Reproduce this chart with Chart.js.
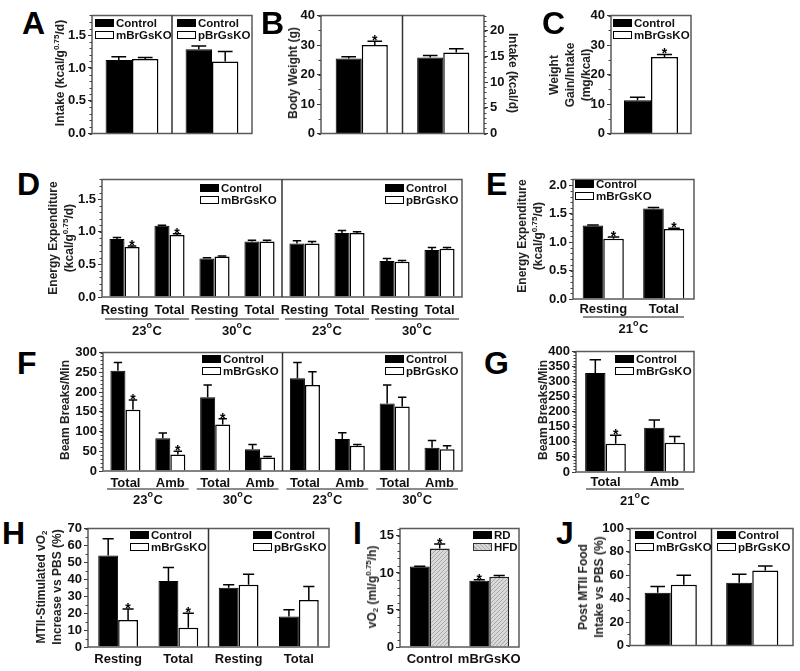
<!DOCTYPE html>
<html><head><meta charset="utf-8">
<script src="https://cdn.jsdelivr.net/npm/chart.js@4.4.1/dist/chart.umd.min.js"></script>
<style>
body{margin:0;background:#fff;width:800px;height:671px;overflow:hidden;position:relative;font-family:"Liberation Sans",Arial,sans-serif;}
canvas{position:absolute;}
.letter{position:absolute;font-weight:bold;font-size:32px;line-height:32px;color:#000;}
.ytitle{position:absolute;font-weight:bold;font-size:12px;color:#222;white-space:nowrap;text-align:center;line-height:16px;transform:translate(-50%,-50%) rotate(-90deg);}
.ytitle.cw{transform:translate(-50%,-50%) rotate(90deg);}
.ytitle sup{font-size:8px;line-height:0;vertical-align:5px;}
.ytitle sub{font-size:8px;line-height:0;vertical-align:-2px;}
.leg{position:absolute;font-weight:bold;font-size:11.5px;color:#111;}
.leg .row{height:12px;line-height:12px;display:flex;align-items:center;white-space:nowrap;}
.sw{display:inline-block;width:19px;height:8px;border:1px solid #000;margin-right:2px;box-sizing:border-box;}
.sw.c{background:#000;}
.sw.k{background:#fff;border-width:1.5px;}
.sw.h{background:repeating-linear-gradient(45deg,#d6d6d6 0 2px,#b0b0b0 2px 3px);border-color:#333;}
</style></head><body>
<script>
// ---------------- DATA ----------------
// A: Intake (kcal/g^0.75/d)
const A_groups = ['mBrGsKO', 'pBrGsKO'];
const A_control = [1.12, 1.285];
const A_controlErr = [1.17, 1.335];
const A_ko = [1.135, 1.10];
const A_koErr = [1.16, 1.25];

// B: Body weight (g) left, Intake (kcal/d) right
const B_groups = ['mBrGsKO', 'pBrGsKO'];
const B_weightControl = [25.4, null];
const B_weightControlErr = [26.0, null];
const B_weightKO = [30.0, null];
const B_weightKOErr = [31.3, null];
const B_weightKOStar = [true, false];
const B_intakeControl = [null, 14.8];
const B_intakeControlErr = [null, 15.2];
const B_intakeKO = [null, 15.8];
const B_intakeKOErr = [null, 16.5];

// C: Weight gain / intake (mg/kcal)
const C_groups = ['mBrGsKO'];
const C_control = [11.3];
const C_controlErr = [12.3];
const C_ko = [25.9];
const C_koErr = [26.8];
const C_koStar = [true];

// D: Energy expenditure
const D_labels = ['Resting', 'Total', 'Resting', 'Total', 'Resting', 'Total', 'Resting', 'Total'];
const D_temps = ['23°C', '30°C', '23°C', '30°C'];
const D_control = [0.89, 1.09, 0.59, 0.85, 0.82, 0.98, 0.55, 0.72];
const D_controlErr = [0.91, 1.10, 0.60, 0.87, 0.86, 1.02, 0.59, 0.76];
const D_ko = [0.765, 0.95, 0.62, 0.85, 0.82, 0.98, 0.54, 0.74];
const D_koErr = [0.78, 0.97, 0.63, 0.87, 0.85, 1.00, 0.56, 0.76];
const D_koStar = [true, true, false, false, false, false, false, false];

// E: Energy expenditure at 21C
const E_labels = ['Resting', 'Total'];
const E_temps = ['21°C'];
const E_control = [1.29, 1.59];
const E_controlErr = [1.30, 1.61];
const E_ko = [1.06, 1.23];
const E_koErr = [1.09, 1.245];
const E_koStar = [true, true];

// F: Beam breaks/min
const F_labels = ['Total', 'Amb', 'Total', 'Amb', 'Total', 'Amb', 'Total', 'Amb'];
const F_temps = ['23°C', '30°C', '23°C', '30°C'];
const F_control = [254, 83, 187, 55, 235, 81, 171, 59];
const F_controlErr = [275, 96, 218, 67, 275, 97, 218, 77];
const F_ko = [155, 42, 118, 34, 218, 64, 163, 55];
const F_koErr = [180, 50, 132, 37, 251, 67, 187, 64];
const F_koStar = [true, true, true, false, false, false, false, false];

// G: Beam breaks/min at 21C
const G_labels = ['Total', 'Amb'];
const G_temps = ['21°C'];
const G_control = [329, 147];
const G_controlErr = [373, 173];
const G_ko = [94, 97];
const G_koErr = [122, 118];
const G_koStar = [true, false];

// H: MTII-stimulated vO2 increase vs PBS (%)
const H_labels = ['Resting', 'Total', 'Resting', 'Total'];
const H_control = [54, 39, 35, 18];
const H_controlErr = [64, 47, 36.7, 22];
const H_ko = [16, 11.4, 36.7, 27.8];
const H_koErr = [22.5, 20, 43, 35.7];
const H_koStar = [true, true, false, false];

// I: vO2 (ml/g^0.75/h)
const I_labels = ['Control', 'mBrGsKO'];
const I_rd = [10.87, 8.94];
const I_rdErr = [10.9, 9.07];
const I_rdStar = [false, true];
const I_hfd = [13.3, 9.5];
const I_hfdErr = [13.9, 9.65];
const I_hfdStar = [true, false];

// J: Post MTII food intake vs PBS (%)
const J_groups = ['mBrGsKO', 'pBrGsKO'];
const J_control = [45, 53.6];
const J_controlErr = [50.5, 61];
const J_ko = [52, 64];
const J_koErr = [60, 68];

// ---------------- HELPERS ----------------
const FONT = '"Liberation Sans", Arial, sans-serif';
Chart.defaults.font.family = FONT;
Chart.defaults.color = '#111';

function drawTemp(ctx, str, x, y) {
  const parts = str.split('°');
  const num = parts[0], unit = parts[1];
  ctx.font = 'bold 13px ' + FONT;
  const w1 = ctx.measureText(num).width, w3 = ctx.measureText(unit).width;
  ctx.font = 'bold 9px ' + FONT;
  const w2 = ctx.measureText('o').width + 0.5;
  let x0 = x - (w1 + w2 + w3) / 2;
  ctx.textAlign = 'left'; ctx.textBaseline = 'middle';
  ctx.font = 'bold 13px ' + FONT; ctx.fillText(num, x0, y);
  ctx.font = 'bold 9px ' + FONT; ctx.fillText('o', x0 + w1, y - 5);
  ctx.font = 'bold 13px ' + FONT; ctx.fillText(unit, x0 + w1 + w2, y);
}

const boxPlugin = {
  id: 'box',
  afterDatasetsDraw(chart, args, o) {
    const a = chart.chartArea, ctx = chart.ctx, xs = chart.scales.x;
    ctx.save();
    ctx.strokeStyle = '#5a5a5a'; ctx.lineWidth = 1.5;
    ctx.strokeRect(a.left, a.top, a.right - a.left, a.bottom - a.top);
    (o.dividers || []).forEach(k => {
      const x = (xs.getPixelForValue(k - 1) + xs.getPixelForValue(k)) / 2;
      ctx.strokeStyle = '#333';
      ctx.beginPath(); ctx.moveTo(x, a.top); ctx.lineTo(x, a.bottom); ctx.stroke();
    });
    ctx.restore();
  }
};

const errPlugin = {
  id: 'err',
  afterDatasetsDraw(chart) {
    const ctx = chart.ctx;
    chart.data.datasets.forEach((ds, di) => {
      if (!ds.errTop) return;
      const meta = chart.getDatasetMeta(di);
      const sc = chart.scales[meta.yAxisID];
      meta.data.forEach((el, i) => {
        const v = ds.errTop[i];
        if (v == null || ds.data[i] == null) return;
        const yt = sc.getPixelForValue(v), x = el.x, hw = el.width * 0.28;
        ctx.save();
        ctx.strokeStyle = '#000'; ctx.lineWidth = 1.5;
        ctx.beginPath();
        ctx.moveTo(x, el.y); ctx.lineTo(x, yt);
        ctx.moveTo(x - hw, yt); ctx.lineTo(x + hw, yt);
        ctx.stroke();
        if (ds.stars && ds.stars[i]) {
          ctx.fillStyle = '#000'; ctx.font = 'bold 14px ' + FONT;
          ctx.textAlign = 'center'; ctx.textBaseline = 'alphabetic';
          ctx.fillText('*', x, yt + 4);
        }
        ctx.restore();
      });
    });
  }
};

const xlabPlugin = {
  id: 'xlab',
  afterDraw(chart, args, o) {
    if (!o || !o.labels) return;
    const ctx = chart.ctx, xs = chart.scales.x, b = chart.chartArea.bottom;
    const n = o.labels.length;
    const half = (chart.chartArea.right - chart.chartArea.left) / n / 2;
    ctx.save();
    ctx.fillStyle = '#111';
    ctx.font = 'bold 13px ' + FONT; ctx.textAlign = 'center'; ctx.textBaseline = 'middle';
    o.labels.forEach((l, i) => ctx.fillText(l, xs.getPixelForValue(i), b + o.dy));
    if (o.groups) {
      const gs = o.groupSize;
      o.groups.forEach((g, gi) => {
        const x0 = xs.getPixelForValue(gi * gs) - half + o.inset;
        const x1 = xs.getPixelForValue(gi * gs + gs - 1) + half - o.inset;
        ctx.strokeStyle = '#666'; ctx.lineWidth = 1.5;
        ctx.beginPath(); ctx.moveTo(x0, b + o.lineDy); ctx.lineTo(x1, b + o.lineDy); ctx.stroke();
        ctx.fillStyle = '#111';
        drawTemp(ctx, g, (x0 + x1) / 2, b + o.groupDy);
      });
    }
    ctx.restore();
  }
};

const minorPlugin = {
  id: 'minor',
  afterDraw(chart, args, o) {
    if (!o) return;
    const ctx = chart.ctx;
    Object.keys(o).forEach(id => {
      const s = chart.scales[id]; if (!s || typeof o[id] !== 'number') return;
      const t = s.ticks; if (t.length < 2) return;
      const step = (t[1].value - t[0].value) / o[id];
      const right = s.position === 'right';
      const x = right ? s.left : s.right;
      ctx.save(); ctx.strokeStyle = '#444'; ctx.lineWidth = 1;
      for (let v = 0; v <= s.max + 1e-9; v += step) {
        const y = Math.round(s.getPixelForValue(v)) + 0.5;
        ctx.beginPath(); ctx.moveTo(x, y); ctx.lineTo(right ? x + 2.5 : x - 2.5, y); ctx.stroke();
      }
      ctx.restore();
    });
  }
};
Chart.register(boxPlugin, errPlugin, xlabPlugin, minorPlugin);

function yScale(max, step, width, fmt, pos) {
  return {
    type: 'linear', position: pos || 'left', min: 0, max: max,
    ticks: { stepSize: step, includeBounds: false, autoSkip: false, font: { size: 13, weight: 'bold', lineHeight: 1 }, color: '#111', padding: 2,
      callback: fmt || (v => v) },
    grid: { display: true, drawOnChartArea: false, drawTicks: true, tickLength: 4, color: '#333', lineWidth: 1 },
    border: { display: false },
    afterFit(s) { s.width = width; }
  };
}
function xScale(h) {
  return { type: 'category', ticks: { display: false }, grid: { display: false }, border: { display: false },
    afterFit(s) { s.height = h; } };
}
const f1 = v => Number(v).toFixed(1);

const hatch = (() => {
  const c = document.createElement('canvas'); c.width = 4; c.height = 4;
  const g = c.getContext('2d');
  g.fillStyle = '#d9d9d9'; g.fillRect(0, 0, 4, 4);
  g.strokeStyle = '#a8a8a8'; g.lineWidth = 1;
  g.beginPath(); g.moveTo(0, 4); g.lineTo(4, 0); g.stroke();
  return g.createPattern(c, 'repeat');
})();

function ctrlDs(data, err, stars, axis) {
  return { data: data, errTop: err, stars: stars, yAxisID: axis || 'y', backgroundColor: '#000', borderColor: '#000', borderWidth: 1 };
}
function koDs(data, err, stars, axis) {
  return { data: data, errTop: err, stars: stars, yAxisID: axis || 'y', backgroundColor: '#fff', borderColor: '#000', borderWidth: 1.5 };
}

// r = [left, top, right, bottom] of plot area; pad = [yAxisW, top, right, bottomH]
function panel(r, pad, labels, datasets, yscales, opts) {
  const c = document.createElement('canvas');
  const w = r[2] - r[0] + pad[0] + pad[2], h = r[3] - r[1] + pad[1] + pad[3];
  c.width = w; c.height = h;
  c.style.left = (r[0] - pad[0]) + 'px'; c.style.top = (r[1] - pad[1]) + 'px';
  c.style.width = w + 'px'; c.style.height = h + 'px';
  document.body.appendChild(c);
  const scales = Object.assign({ x: xScale(pad[3]) }, yscales);
  return new Chart(c, {
    type: 'bar',
    data: { labels: labels, datasets: datasets },
    options: {
      responsive: false, animation: false, devicePixelRatio: 1,
      layout: { padding: { top: pad[1], right: opts.padRight != null ? opts.padRight : pad[2], left: 0, bottom: 0 } },
      datasets: { bar: { categoryPercentage: opts.cat || 0.66, barPercentage: 1, skipNull: true } },
      scales: scales,
      plugins: { legend: { display: false }, tooltip: { enabled: false },
        box: { dividers: opts.dividers || [] }, xlab: opts.xlab || {}, minor: opts.minor || {} }
    }
  });
}

function letter(ch, x, capTop) {
  const d = document.createElement('div'); d.className = 'letter'; d.textContent = ch;
  d.style.left = (x - 1) + 'px'; d.style.top = (capTop - 5) + 'px'; document.body.appendChild(d);
}
function ytitle(html, cx, cy, cw) {
  const d = document.createElement('div'); d.className = 'ytitle' + (cw ? ' cw' : ''); d.innerHTML = html;
  d.style.left = cx + 'px'; d.style.top = cy + 'px'; document.body.appendChild(d);
}
function legend(x, y, items) {
  const d = document.createElement('div'); d.className = 'leg';
  d.style.left = x + 'px'; d.style.top = (y - 6) + 'px';
  items.forEach(it => {
    const r = document.createElement('div'); r.className = 'row';
    r.innerHTML = '<span class="sw ' + it[1] + '"></span>' + it[0];
    d.appendChild(r);
  });
  document.body.appendChild(d);
}

// ---------------- PANELS ----------------
// A
panel([92, 15, 252, 136], [32, 8, 4, 6], A_groups,
  [ctrlDs(A_control, A_controlErr), koDs(A_ko, A_koErr)],
  { y: yScale(1.8, 0.5, 32, f1) }, { dividers: [1], cat: 0.66, minor: { y: 5 } });
// B
panel([321, 15, 484, 136], [28, 8, 30, 6], B_groups,
  [ctrlDs(B_weightControl, B_weightControlErr), koDs(B_weightKO, B_weightKOErr, B_weightKOStar),
   ctrlDs(B_intakeControl, B_intakeControlErr, null, 'y2'), koDs(B_intakeKO, B_intakeKOErr, null, 'y2')],
  { y: yScale(40, 10, 28), y2: yScale(23, 5, 30, null, 'right') },
  { dividers: [1], cat: 0.64, padRight: 0, minor: { y: 2, y2: 5 } });
// C
panel([611, 15, 691, 136], [28, 8, 4, 6], C_groups,
  [ctrlDs(C_control, C_controlErr), koDs(C_ko, C_koErr, C_koStar)],
  { y: yScale(40, 10, 28) }, { cat: 0.675, minor: { y: 2 } });
// D
panel([102, 179, 462, 297], [32, 8, 4, 42], D_labels,
  [ctrlDs(D_control, D_controlErr), koDs(D_ko, D_koErr, D_koStar)],
  { y: yScale(1.8, 0.5, 32, f1) },
  { dividers: [4], cat: 0.67, minor: { y: 5 },
    xlab: { labels: D_labels, dy: 13, groups: D_temps, groupSize: 2, lineDy: 22, groupDy: 34, inset: 3 } });
// E
panel([573, 179, 694, 299], [32, 8, 4, 42], E_labels,
  [ctrlDs(E_control, E_controlErr), koDs(E_ko, E_koErr, E_koStar)],
  { y: yScale(2.1, 0.5, 32, f1) },
  { cat: 0.68, minor: { y: 5 },
    xlab: { labels: E_labels, dy: 10, groups: E_temps, groupSize: 2, lineDy: 18, groupDy: 30, inset: 10 } });
// F
panel([103, 352, 462, 471], [32, 8, 4, 40], F_labels,
  [ctrlDs(F_control, F_controlErr), koDs(F_ko, F_koErr, F_koStar)],
  { y: yScale(300, 50, 32) },
  { dividers: [4], cat: 0.67, minor: { y: 5 },
    xlab: { labels: F_labels, dy: 12, groups: F_temps, groupSize: 2, lineDy: 18, groupDy: 29, inset: 4 } });
// G
panel([576, 351, 694, 472], [32, 8, 4, 40], G_labels,
  [ctrlDs(G_control, G_controlErr), koDs(G_ko, G_koErr, G_koStar)],
  { y: yScale(400, 50, 32) },
  { cat: 0.69, minor: { y: 5 },
    xlab: { labels: G_labels, dy: 10, groups: G_temps, groupSize: 2, lineDy: 17, groupDy: 29, inset: 10 } });
// H
panel([88, 528, 329, 647], [22, 8, 4, 22], H_labels,
  [ctrlDs(H_control, H_controlErr), koDs(H_ko, H_koErr, H_koStar)],
  { y: yScale(70, 10, 22) },
  { dividers: [2], cat: 0.66, minor: { y: 2 }, xlab: { labels: H_labels, dy: 12 } });
// I
panel([400, 528, 519, 647], [22, 8, 4, 22], I_labels,
  [ctrlDs(I_rd, I_rdErr, I_rdStar),
   { data: I_hfd, errTop: I_hfdErr, stars: I_hfdStar, yAxisID: 'y', backgroundColor: hatch, borderColor: '#222', borderWidth: 1.5 }],
  { y: yScale(16, 5, 22) },
  { cat: 0.67, minor: { y: 5 }, xlab: { labels: I_labels, dy: 12 } });
// J
panel([630, 528, 793, 648], [30, 8, 4, 6], J_groups,
  [ctrlDs(J_control, J_controlErr), koDs(J_ko, J_koErr)],
  { y: yScale(100, 20, 30) }, { dividers: [1], cat: 0.64, minor: { y: 2 } });

// ---------------- LETTERS ----------------
letter('A', 23, 12); letter('B', 262, 12); letter('C', 543, 12);
letter('D', 18, 173); letter('E', 487, 173);
letter('F', 18, 352); letter('G', 485, 352);
letter('H', 3, 522); letter('I', 354, 522); letter('J', 557, 522);

// ---------------- AXIS TITLES ----------------
ytitle('Intake (kcal/g<sup>0.75</sup>/d)', 60, 73);
ytitle('Body Weight (g)', 293, 73);
ytitle('Intake (kcal/d)', 513, 73, true);
ytitle('Weight<br>Gain/Intake<br>(mg/kcal)', 570, 75);
ytitle('Energy Expenditure<br>(kcal/g<sup>0.75</sup>/d)', 61, 238);
ytitle('Energy Expenditure<br>(kcal/g<sup>0.75</sup>/d)', 530, 236);
ytitle('Beam Breaks/Min', 65, 410);
ytitle('Beam Breaks/Min', 543, 410);
ytitle('MTII-Stimulated vO<sub>2</sub><br>Increase vs PBS (%)', 49, 587);
ytitle('vO<sub>2</sub> (ml/g<sup>0.75</sup>/h)', 372, 587);
ytitle('Post MTII Food<br>Intake vs PBS (%)', 591, 587);

// ---------------- LEGENDS ----------------
const L1 = [['Control', 'c'], ['mBrGsKO', 'k']];
const L2 = [['Control', 'c'], ['pBrGsKO', 'k']];
legend(95, 23, L1); legend(177, 23, L2);
legend(613, 23, L1);
legend(200, 188, L1); legend(385, 188, L2);
legend(575, 184, L1);
legend(202, 359, L1); legend(385, 359, L2);
legend(615, 359, L1);
legend(130, 535, L1); legend(253, 535, L2);
legend(473, 535, [['RD', 'c'], ['HFD', 'h']]);
legend(635, 535, L1); legend(717, 535, L2);
</script>
</body></html>
